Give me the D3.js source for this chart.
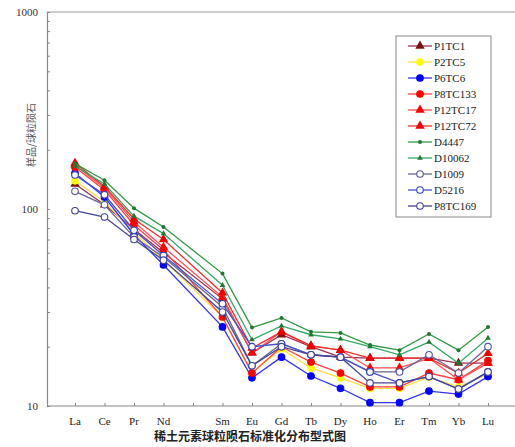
<!DOCTYPE html>
<html>
<head>
<meta charset="utf-8">
<script src="https://cdn.jsdelivr.net/npm/d3@7"></script>
<style>
body { margin: 0; background: #fff; }
svg text { font-family: "Liberation Serif", serif; }
</style>
</head>
<body>
<script>
// 元素 (Pm 位置只留刻度)
var elements = ["La","Ce","Pr","Nd","Pm","Sm","Eu","Gd","Tb","Dy","Ho","Er","Tm","Yb","Lu"];
var ree = ["La","Ce","Pr","Nd","Sm","Eu","Gd","Tb","Dy","Ho","Er","Tm","Yb","Lu"];
var yTicks = [10, 100, 1000];

var P1TC1   = [134,105,79,60,35,18.6,23,20,17.7,17.5,17.5,17.5,16.5,16.5];
var P2TC5   = [139,109,76,55,28.3,14.7,19.5,15.6,13.9,12.3,12.3,14,12.5,14.5];
var P6TC6   = [152,115,74,52,25.2,13.9,17.7,14.2,12.3,10.4,10.4,11.9,11.5,14.1];
var P8TC133 = [163,125,83,62,28.3,14.7,20,16.7,14.7,12.5,12.5,14.7,13.6,17];
var P12TC17 = [167,128,86,64,35.7,18.6,23.8,20.2,19.2,15.6,15.6,17.5,13.6,16.5];
var P12TC72 = [171,130,89,70,37.5,19.7,23.8,20.2,19.2,17.5,17.5,17.5,14.7,18.5];
var D4447   = [170,140,101,81,47,25,28,23.8,23.5,20.4,19.2,23.2,19.2,25.2];
var D10062  = [165,134,92,75,41,21.7,25.5,23,21.9,20,18.2,21.1,16.5,22.1];
var D1009   = [123,105,72,57,31.8,16,20.7,18.2,17.7,14.9,14.9,18.2,14.7,20];
var D5216   = [149,118,78,58,33,20,20.7,18.2,17.7,14.9,13.1,14.1,12.2,14.9];
var P8TC169 = [98,91,70,55,30,16,20,18.2,17.7,13.1,13.1,14.1,12.2,14.9];

var series = [
  {name:"P1TC1",   vals:P1TC1,   line:"#a03050", mark:"#7a1010", shape:"tri",  open:false},
  {name:"P2TC5",   vals:P2TC5,   line:"#ffe040", mark:"#ffff00", shape:"circ", open:false},
  {name:"P6TC6",   vals:P6TC6,   line:"#3333ff", mark:"#0000ff", shape:"circ", open:false},
  {name:"P8TC133", vals:P8TC133, line:"#ff4040", mark:"#ff0000", shape:"circ", open:false},
  {name:"P12TC17", vals:P12TC17, line:"#ff5050", mark:"#ff0000", shape:"tri",  open:false},
  {name:"P12TC72", vals:P12TC72, line:"#ee3030", mark:"#ee0000", shape:"tri",  open:false},
  {name:"D4447",   vals:D4447,   line:"#339944", mark:"#227733", shape:"dot",  open:false},
  {name:"D10062",  vals:D10062,  line:"#33aa66", mark:"#227733", shape:"stri", open:false},
  {name:"D1009",   vals:D1009,   line:"#666699", mark:"#555599", shape:"circ", open:true},
  {name:"D5216",   vals:D5216,   line:"#4455cc", mark:"#3344bb", shape:"circ", open:true},
  {name:"P8TC169", vals:P8TC169, line:"#444499", mark:"#444499", shape:"circ", open:true}
];

var W = 515, H = 447;
var svg = d3.select("body").append("svg").attr("width", W).attr("height", H);

var x = d3.scalePoint().domain(elements).range([75, 488]);
var y = d3.scaleLog().domain([10, 1000]).range([406, 12]);

// 框线
svg.append("line").attr("x1", 47).attr("x2", W).attr("y1", 12).attr("y2", 12)
   .attr("stroke", "#999").attr("stroke-width", 1.2);

var yAxis = svg.append("g").attr("transform", "translate(47,0)")
   .call(d3.axisRight(y).tickValues(d3.range(10, 100, 10).concat(d3.range(100, 1001, 100)))
        .tickSize(3).tickFormat(""));
yAxis.select(".domain").attr("stroke", "#888").attr("stroke-width", 1.2);
yAxis.selectAll(".tick line").attr("stroke", "#888");

svg.selectAll(".ylab").data(yTicks).enter().append("text")
   .attr("x", 38).attr("y", function(d) { return y(d) + 4; })
   .attr("text-anchor", "end").attr("font-size", 11).attr("fill", "#333")
   .text(function(d) { return d; });

var xAxis = svg.append("g").attr("transform", "translate(0,406)")
   .call(d3.axisTop(x).tickSize(3).tickFormat(""));
xAxis.select(".domain").attr("stroke", "#888").attr("stroke-width", 1.2).attr("d", "M47,0H" + W);
xAxis.selectAll(".tick line").attr("stroke", "#888");

svg.selectAll(".xlab").data(ree).enter().append("text")
   .attr("x", function(d) { return x(d); }).attr("y", 425)
   .attr("text-anchor", "middle").attr("font-size", 11).attr("fill", "#222")
   .text(function(d) { return d; });

svg.append("text").attr("transform", "translate(35,135) rotate(-90)")
   .attr("text-anchor", "middle").attr("font-size", 10).attr("fill", "#555")
   .style("font-family", "'Noto Sans CJK SC'")
   .text("样品/球粒陨石");

svg.append("text").attr("x", 250).attr("y", 441)
   .attr("text-anchor", "middle").attr("font-size", 12).attr("font-weight", "bold").attr("fill", "#222")
   .style("font-family", "'Noto Sans CJK SC'")
   .text("稀土元素球粒陨石标准化分布型式图");

function marker(g, s, cx, cy) {
  if (s.shape == "circ") {
    g.append("circle").attr("cx", cx).attr("cy", cy).attr("r", 3.3)
     .attr("fill", s.open ? "#fff" : s.mark).attr("stroke", s.mark).attr("stroke-width", 1.1);
  } else if (s.shape == "dot") {
    g.append("circle").attr("cx", cx).attr("cy", cy).attr("r", 2).attr("fill", s.mark);
  } else {
    g.append("path").attr("transform", "translate(" + cx + "," + cy + ")")
     .attr("d", d3.symbol().type(d3.symbolTriangle).size(s.shape == "tri" ? 38 : 14))
     .attr("fill", s.mark);
  }
}

var line = d3.line().x(function(d) { return x(d.el); }).y(function(d) { return y(d.v); });

series.forEach(function(s) {
  var pts = ree.map(function(el, i) { return {el: el, v: s.vals[i]}; });
  var g = svg.append("g");
  g.append("path").datum(pts).attr("d", line).attr("fill", "none")
   .attr("stroke", s.line).attr("stroke-width", 1.3);
  pts.forEach(function(p) { marker(g, s, x(p.el), y(p.v)); });
});

// 图例
var lg = svg.append("g");
lg.append("rect").attr("x", 396).attr("y", 36).attr("width", 95).attr("height", 181)
  .attr("fill", "#fff").attr("stroke", "#888");
series.forEach(function(s, i) {
  var ly = 46 + i * 16;
  lg.append("line").attr("x1", 408).attr("x2", 432).attr("y1", ly).attr("y2", ly)
    .attr("stroke", s.line).attr("stroke-width", 1.3);
  marker(lg, s, 420, ly);
  lg.append("text").attr("x", 434).attr("y", ly + 4).attr("font-size", 11).attr("fill", "#222").text(s.name);
});
</script>
</body>
</html>
